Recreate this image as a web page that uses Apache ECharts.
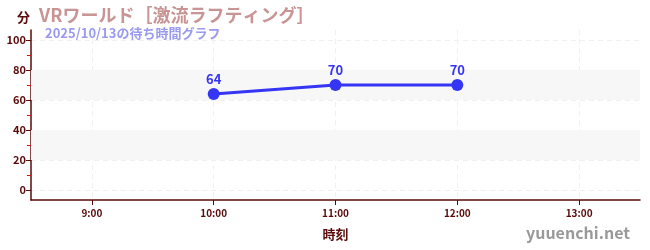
<!DOCTYPE html>
<html><head><meta charset="utf-8">
<script src="https://cdn.jsdelivr.net/npm/echarts@6/dist/echarts.min.js"></script>
<style>html,body{margin:0;padding:0;background:#fff}#c{width:650px;height:250px}</style>
</head><body><div id="c"></div>
<script>
const times = ["10:00", "11:00", "12:00"];
const waits = [64, 70, 70];
const xTickLabels = ["9:00", "10:00", "11:00", "12:00", "13:00"];
const yTicks = [0, 20, 40, 60, 80, 100];
const yMinorTicks = [10, 30, 50, 70, 90];
const bands = [[20, 40], [60, 80]];

const toH = s => { const p = s.split(':'); return +p[0] + (+p[1]) / 60; };
const xTicks = xTickLabels.map(toH);
const axisColor = '#5a0a0a';
const font = '"Noto Sans CJK JP", "Noto Sans", sans-serif';

const chart = echarts.init(document.getElementById('c'));
chart.setOption({
  animation: false,
  textStyle: { fontFamily: font },
  title: [
    { text: 'VRワールド［激流ラフティング］', left: 34, top: 1,
      textStyle: { color: '#c89494', fontSize: 18, fontWeight: 'bold', fontFamily: font } },
    { text: '2025/10/13の待ち時間グラフ', left: 40, top: 22,
      textStyle: { color: '#9a9af0', fontSize: 13, fontWeight: 'bold', fontFamily: font } },
    { text: '分', left: 12, top: 6,
      textStyle: { color: axisColor, fontSize: 13, fontWeight: 'bold', fontFamily: font } },
    { text: 'yuuenchi.net', right: 15, top: 220,
      textStyle: { color: '#999999', fontSize: 16, fontWeight: 'bold', fontFamily: font } }
  ],
  grid: { left: 31, right: 10, top: 30, bottom: 50, containLabel: false },
  xAxis: {
    type: 'value', min: 8.5, max: 13.5,
    name: '時刻', nameLocation: 'middle', nameGap: 28,
    nameTextStyle: { color: axisColor, fontSize: 13, fontWeight: 'bold', fontFamily: font },
    axisLine: { onZero: false, lineStyle: { color: axisColor, width: 1.5 } },
    axisTick: { customValues: xTicks, length: 5, lineStyle: { color: axisColor } },
    axisLabel: { customValues: xTicks, color: axisColor, fontSize: 10, fontWeight: 'bold',
      formatter: v => xTickLabels[xTicks.indexOf(v)] || '' },
    splitLine: { show: true, lineStyle: { color: '#f0f0f0', type: [5, 4] } }
  },
  yAxis: [{
    type: 'value', min: -6.667, max: 106.667,
    axisLine: { show: true, onZero: false, lineStyle: { color: axisColor, width: 1.5 } },
    axisTick: { customValues: yTicks, length: 5, lineStyle: { color: axisColor } },
    axisLabel: { customValues: yTicks, color: axisColor, fontSize: 11, fontWeight: 'bold', margin: 5 },
    splitLine: { show: true, lineStyle: { color: '#f0f0f0', type: [5, 4] } }
  }, {
    type: 'value', min: -6.667, max: 106.667, position: 'left',
    axisLine: { show: false },
    axisTick: { show: true, customValues: yMinorTicks, length: 4, lineStyle: { color: '#dd1111' } },
    axisLabel: { show: false },
    splitLine: { show: false }
  }],
  series: [{
    type: 'line',
    data: times.map((t, i) => [toH(t), waits[i]]),
    lineStyle: { color: '#3535f5', width: 3 },
    itemStyle: { color: '#3535f5' },
    symbol: 'circle', symbolSize: 12,
    label: { show: true, position: 'top', distance: 2, color: '#3535f5', fontSize: 13, fontWeight: 'bold' },
    markArea: {
      silent: true,
      itemStyle: { color: '#f7f7f7' },
      data: bands.map(b => [{ yAxis: b[0] }, { yAxis: b[1] }])
    },
    z: 5
  }]
});
</script></body></html>
